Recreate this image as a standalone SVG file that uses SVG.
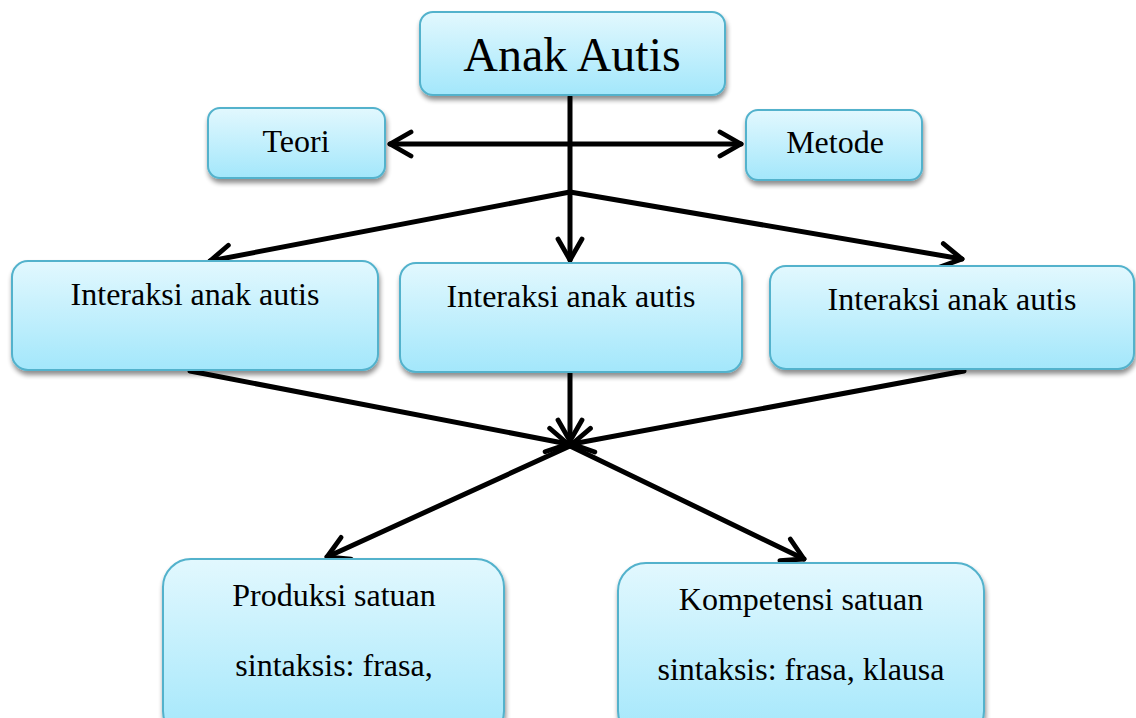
<svg xmlns="http://www.w3.org/2000/svg" width="1136" height="718" viewBox="0 0 1136 718">
<defs>
<linearGradient id="g" x1="0" y1="0" x2="0" y2="1">
<stop offset="0" stop-color="#e2f8fe"/>
<stop offset="1" stop-color="#a3e7fb"/>
</linearGradient>
<filter id="sh" x="-10%" y="-10%" width="125%" height="130%">
<feGaussianBlur in="SourceAlpha" stdDeviation="2.5"/>
<feOffset dx="1" dy="4"/>
<feComponentTransfer><feFuncA type="linear" slope="0.45"/></feComponentTransfer>
<feMerge><feMergeNode/><feMergeNode in="SourceGraphic"/></feMerge>
</filter>
<marker id="ah" viewBox="0 0 20 20" refX="17" refY="10" markerWidth="6" markerHeight="6" markerUnits="strokeWidth" orient="auto-start-reverse">
<path d="M3,2 L17,10 L3,18" fill="none" stroke="#000" stroke-width="3.2" stroke-linecap="round" stroke-linejoin="round"/>
</marker>
</defs>
<style>
.box{fill:url(#g);stroke:#52b2cc;stroke-width:2;filter:url(#sh)}
.c{fill:none;stroke:#000;stroke-width:5;stroke-linecap:round}
</style>
<rect width="1136" height="718" fill="#fff"/>
<g id="connectors">
<line class="c" x1="570" y1="97" x2="570" y2="260" marker-end="url(#ah)"/>
<line class="c" x1="390" y1="144" x2="741" y2="144" marker-start="url(#ah)" marker-end="url(#ah)"/>
<line class="c" x1="570" y1="192" x2="210" y2="261" marker-end="url(#ah)"/>
<line class="c" x1="570" y1="192" x2="962" y2="259" marker-end="url(#ah)"/>
<line class="c" x1="190" y1="371" x2="568" y2="444" marker-end="url(#ah)"/>
<line class="c" x1="570" y1="373" x2="570" y2="441" marker-end="url(#ah)"/>
<line class="c" x1="964" y1="371" x2="572" y2="444" marker-end="url(#ah)"/>
<line class="c" x1="570" y1="446" x2="327" y2="557" marker-end="url(#ah)"/>
<line class="c" x1="570" y1="446" x2="804" y2="559" marker-end="url(#ah)"/>
</g>
<g font-family="'Liberation Serif', 'DejaVu Serif', serif" text-anchor="middle" fill="#000">
<g id="anak-autis">
<rect class="box" x="420" y="12" width="305" height="83" rx="13"/>
<text x="572" y="71" font-size="48">Anak Autis</text>
</g>
<g id="teori">
<rect class="box" x="208" y="108" width="177" height="70" rx="12"/>
<text x="296" y="152" font-size="32">Teori</text>
</g>
<g id="metode">
<rect class="box" x="746" y="110" width="176" height="70" rx="12"/>
<text x="835" y="153" font-size="32">Metode</text>
</g>
<g id="interaksi-1">
<rect class="box" x="12" y="261" width="366" height="109" rx="16"/>
<text x="195" y="305" font-size="32">Interaksi anak autis</text>
</g>
<g id="interaksi-2">
<rect class="box" x="400" y="263" width="342" height="109" rx="16"/>
<text x="571" y="307" font-size="32">Interaksi anak autis</text>
</g>
<g id="interaksi-3">
<rect class="box" x="770" y="266" width="364" height="103" rx="16"/>
<text x="952" y="310" font-size="32">Interaksi anak autis</text>
</g>
<g id="produksi">
<rect class="box" x="163" y="559" width="341" height="180" rx="28"/>
<text x="334" y="606" font-size="32">Produksi satuan</text>
<text x="334" y="676" font-size="32">sintaksis: frasa,</text>
</g>
<g id="kompetensi">
<rect class="box" x="618" y="563" width="366" height="176" rx="28"/>
<text x="801" y="610" font-size="32">Kompetensi satuan</text>
<text x="801" y="680" font-size="32">sintaksis: frasa, klausa</text>
</g>
</g>
</svg>
